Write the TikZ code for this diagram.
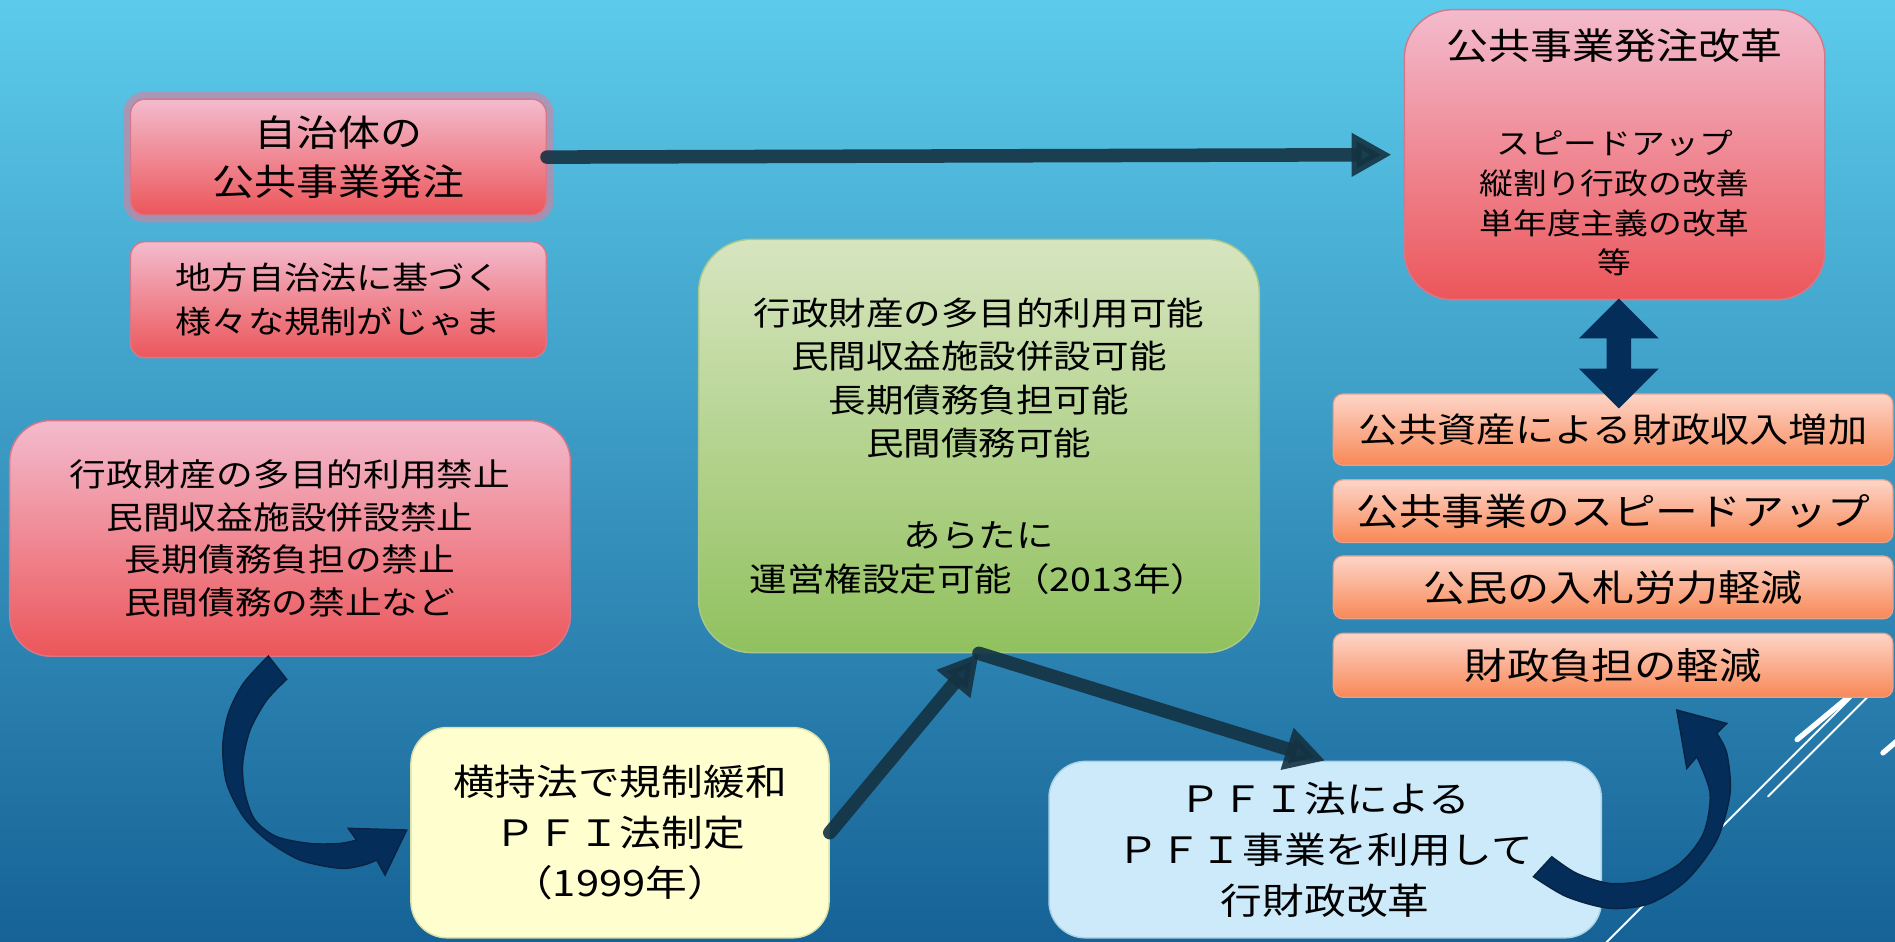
\documentclass[tikz,border=0pt]{standalone}
\usepackage{fontspec}
\setmainfont{Noto Sans CJK JP}[FakeStretch=1.15]
\usetikzlibrary{arrows.meta}
\definecolor{bgT}{RGB}{92,203,235}
\definecolor{bgM}{RGB}{52,150,196}
\definecolor{bgB}{RGB}{22,98,150}
\definecolor{pinkT}{RGB}{243,187,205}
\definecolor{pinkB}{RGB}{236,86,90}
\definecolor{pinkE}{RGB}{214,120,140}
\definecolor{glowC}{RGB}{232,120,150}
\definecolor{greenT}{RGB}{215,229,192}
\definecolor{greenB}{RGB}{145,193,94}
\definecolor{greenE}{RGB}{170,200,140}
\definecolor{yellowF}{RGB}{254,254,206}
\definecolor{yellowE}{RGB}{220,225,170}
\definecolor{blueF}{RGB}{205,234,251}
\definecolor{blueE}{RGB}{170,210,225}
\definecolor{orT}{RGB}{253,213,200}
\definecolor{orM}{RGB}{251,182,152}
\definecolor{orB}{RGB}{248,136,86}
\definecolor{orE}{RGB}{230,160,140}
\definecolor{connC}{RGB}{20,50,66}
\definecolor{navy}{RGB}{5,45,90}
\definecolor{navyE}{RGB}{8,36,66}
\begin{document}
\begin{tikzpicture}[x=0.5pt,y=-0.5pt,
  box/.style={rectangle, rounded corners=#1, inner sep=0pt, align=center, text=black},
  pinkbox/.style={top color=pinkT, bottom color=pinkB, draw=pinkE, line width=0.6pt},
  greenbox/.style={top color=greenT, bottom color=greenB, draw=greenE, line width=0.6pt},
  yellowbox/.style={fill=yellowF, draw=yellowE, line width=0.6pt},
  bluebox/.style={fill=blueF, draw=blueE, line width=0.6pt},
  orbox/.style={top color=orT, middle color=orM, bottom color=orB, draw=orE, line width=0.5pt,
    minimum width=231.5pt},
  conn/.style={draw=connC, opacity=0.9, line width=5.6pt, line cap=round,
    -{Triangle[length=16.5pt 0 0, width=17pt 0 0]}},
  crescent/.style={fill=navy, draw=navyE, line width=0.6pt},
  wline/.style={draw=white, line cap=round},
  txt/.style={inner sep=0pt, align=center, text=black}
]
\useasboundingbox (0,0) rectangle (1568,779.4);
\shade[top color=bgT, middle color=bgM, bottom color=bgB] (0,0) rectangle (1568,779.4);

% decorative white lines
\draw[wline, line width=2.2pt] (1487,612) -- (1540,568);
\draw[wline, line width=2.2pt] (1558,623) -- (1578,606);
\draw[wline, line width=0.8pt] (1320,789) -- (1545,564);
\draw[wline, line width=0.8pt] (1463,659) -- (1555,567);

% left column
\node[box=6pt, pinkbox, minimum width=172pt, minimum height=48pt,
  preaction={draw=glowC, draw opacity=0.55, line width=6pt},
  font=\fontsize{15.1pt}{20pt}\selectfont] (A) at (280,130) {自治体の\\公共事業発注};
\node[box=6pt, pinkbox, minimum width=172pt, minimum height=48pt,
  font=\fontsize{13pt}{18pt}\selectfont] (B) at (280,248) {地方自治法に基づく\\様々な規制がじゃま};
\node[box=17pt, pinkbox, minimum width=232pt, minimum height=97.5pt,
  font=\fontsize{13.2pt}{17.75pt}\selectfont] (C) at (240,445.5)
  {行政財産の多目的利用禁止\\民間収益施設併設禁止\\長期債務負担の禁止\\民間債務の禁止など};

% middle
\node[box=22pt, greenbox, minimum width=232pt, minimum height=171pt,
  font=\fontsize{13.5pt}{18pt}\selectfont] (D) at (810,369)
  {行政財産の多目的利用可能\\民間収益施設併設可能\\長期債務負担可能\\民間債務可能\\[20pt]あらたに\\運営権設定可能（2013年）};
\node[box=15pt, yellowbox, minimum width=173pt, minimum height=87pt,
  font=\fontsize{15pt}{21pt}\selectfont] (E) at (513,689)
  {横持法で規制緩和\\ＰＦＩ法制定\\（1999年）};
\node[box=15pt, bluebox, minimum width=228.5pt, minimum height=73pt,
  font=\fontsize{15pt}{21pt}\selectfont] (F) at (1096.5,703)
  {ＰＦＩ法による\\ＰＦＩ事業を利用して\\行財政改革};

% right column
\node[box=20pt, pinkbox, minimum width=174pt, minimum height=120pt] (G) at (1336,128) {};
\node[txt, font=\fontsize{15.1pt}{20pt}\selectfont] (Gt) at (1336,38) {公共事業発注改革};
\node[txt, font=\fontsize{12.15pt}{16.5pt}\selectfont] (Gb) at (1336,168)
  {スピードアップ\\縦割り行政の改善\\単年度主義の改革\\等};

\node[box=4pt, orbox, minimum height=29.5pt, font=\fontsize{14.1pt}{16pt}\selectfont]
  (O1) at (1334.75,355.5) {公共資産による財政収入増加};
\node[box=4pt, orbox, minimum height=26pt, font=\fontsize{15.4pt}{17pt}\selectfont]
  (O2) at (1334.75,423) {公共事業のスピードアップ};
\node[box=4pt, orbox, minimum height=26pt, font=\fontsize{15.15pt}{17pt}\selectfont]
  (O3) at (1334.75,486) {公民の入札労力軽減};
\node[box=4pt, orbox, minimum height=26.5pt, font=\fontsize{15.25pt}{17pt}\selectfont]
  (O4) at (1334.75,550.5) {財政負担の軽減};

% double block arrow
\fill[navy] (1339.5,247) -- (1372.5,280) -- (1349.7,280) -- (1349.7,305) -- (1372.5,305)
  -- (1339.5,338) -- (1306.5,305) -- (1329.3,305) -- (1329.3,280) -- (1306.5,280) -- cycle;

% straight connectors
\draw[conn, shorten >=5pt] (A.east) -- (G.west);
\draw[conn] (E.east) -- (D.south);
\draw[conn] (D.south) -- (F.north);

% curved block arrows
\filldraw[crescent] (222,542.8)
  -- plot[smooth] coordinates {(222,542.8) (201.4,565.5) (189,590.3) (184.3,617.9) (187.6,648.2)
     (201.4,675.8) (220.7,695.1) (248.2,711.6) (281.3,718.5) (300.7,715.8) (311.7,711.6)}
  -- (318.6,724.1) -- (336.5,686.8) -- (288.2,685.4) -- (295.1,695.1)
  -- plot[smooth] coordinates {(295.1,695.1) (281.3,697.9) (256.5,697.9) (228.9,692.3) (211,678.5)
     (202.7,656.5) (200.8,631.7) (206.9,604.1) (220.7,579.3) (237.2,562.1)}
  -- cycle;
\filldraw[crescent] (1268.8,725.4)
  -- plot[smooth] coordinates {(1268.8,725.4) (1296.4,742) (1332.2,751.6) (1365.3,747.5)
     (1395.7,728.2) (1420.5,695.1) (1431.5,656.5) (1428.8,623.4) (1420.5,606.8)}
  -- (1428.8,598.6) -- (1387.4,587.5) -- (1395.7,635.8) -- (1404,626.1)
  -- plot[smooth] coordinates {(1404,626.1) (1415,656.5) (1409.5,689.6) (1390.1,714.4)
     (1362.6,728.2) (1332.2,731) (1304.6,722.7) (1284,708.9)}
  -- cycle;
\end{tikzpicture}
\end{document}
